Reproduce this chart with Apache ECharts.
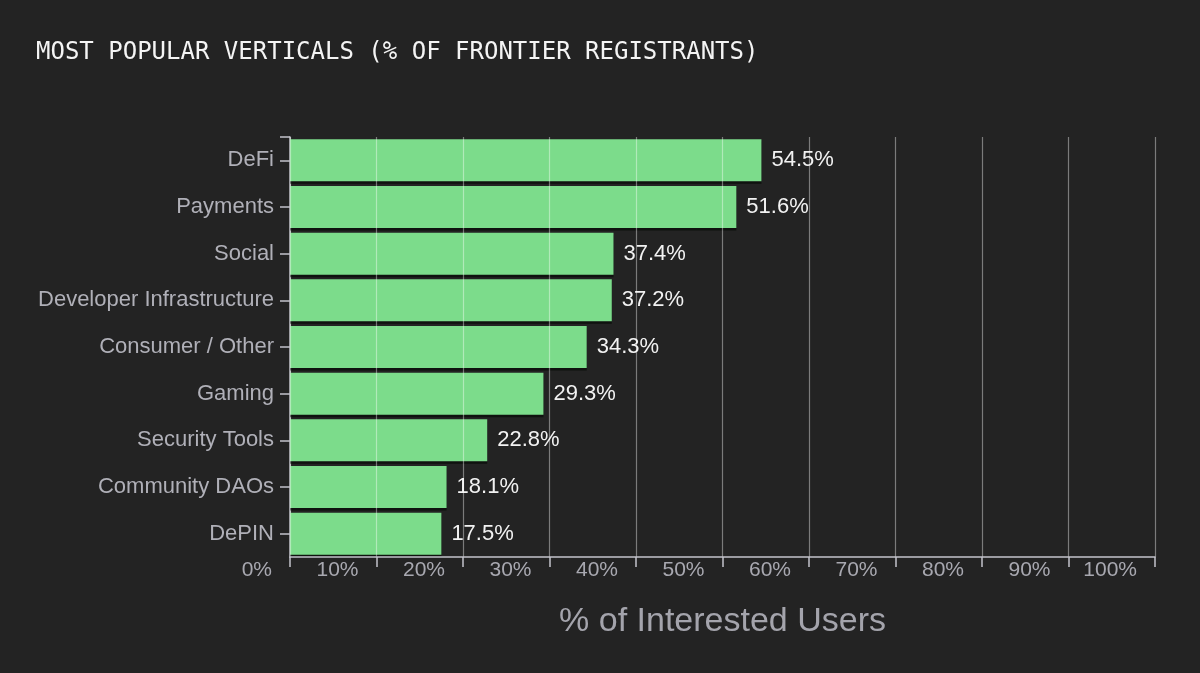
<!DOCTYPE html>
<html>
<head>
<meta charset="utf-8">
<script src="https://cdn.jsdelivr.net/npm/echarts@6/dist/echarts.min.js"></script>
<style>
  html, body { margin: 0; padding: 0; background: #232323; }
  #chart { width: 1200px; height: 673px; }
</style>
</head>
<body>
<div id="chart"></div>
<script>
// data
var categories = ['DeFi', 'Payments', 'Social', 'Developer Infrastructure', 'Consumer / Other',
                  'Gaming', 'Security Tools', 'Community DAOs', 'DePIN']
var shares = [54.5, 51.6, 37.4, 37.2, 34.3, 29.3, 22.8, 18.1, 17.5]
var tickValues = [0, 10, 20, 30, 40, 50, 60, 70, 80, 90, 100]

var chart = echarts.init(document.getElementById('chart'))

var labelFont = 'Liberation Sans, Arial, Helvetica, sans-serif'

var option = {
  backgroundColor: '#232323',
  animation: false,
  title: {
    text: 'MOST POPULAR VERTICALS (% OF FRONTIER REGISTRANTS)',
    left: 31,
    top: 36,
    textStyle: {
      color: '#f4f4f4',
      fontFamily: 'DejaVu Sans Mono, monospace',
      fontWeight: 'normal',
      fontSize: 24
    }
  },
  grid: { left: 290, right: 45, top: 137, bottom: 116, containLabel: false },
  xAxis: {
    type: 'value',
    min: tickValues[0],
    max: tickValues[tickValues.length - 1],
    interval: 10,
    z: 5,
    name: '% of Interested Users',
    nameLocation: 'middle',
    nameGap: 48,
    nameTextStyle: { color: '#a4a4ac', fontSize: 34, fontFamily: labelFont },
    axisLine: { show: true, lineStyle: { color: '#c4c4cc', width: 1.5 } },
    axisTick: { show: true, length: 10, lineStyle: { color: '#c4c4cc', width: 1.5 } },
    axisLabel: {
      color: '#a8a8b0',
      fontSize: 21,
      fontFamily: labelFont,
      align: 'right',
      padding: [0, 18, 0, 0],
      margin: 3,
      formatter: '{value}%'
    },
    splitLine: { show: true, lineStyle: { color: 'rgba(255,255,255,0.4)', width: 1.2 } }
  },
  yAxis: {
    type: 'category',
    data: categories,
    inverse: true,
    axisLine: { show: true, lineStyle: { color: '#c4c4cc', width: 1.5 } },
    axisTick: { show: true, alignWithLabel: true, length: 10, lineStyle: { color: '#c4c4cc', width: 1.5 } },
    axisLabel: { color: '#b0b0b8', fontSize: 22, fontFamily: labelFont, margin: 16 }
  },
  graphic: [{
    type: 'line',
    shape: { x1: 280, y1: 137, x2: 290, y2: 137 },
    style: { stroke: '#c4c4cc', lineWidth: 1.5 }
  }],
  series: [{
    type: 'bar',
    data: shares,
    barCategoryGap: '10%',
    itemStyle: { color: '#7cdc8b', shadowColor: '#0f120f', shadowOffsetY: 2.5, shadowBlur: 0 },
    label: {
      show: true,
      position: 'right',
      distance: 10,
      color: '#f2f2f2',
      fontSize: 22,
      fontFamily: labelFont,
      formatter: function (p) { return p.value.toFixed(1) + '%' }
    }
  }]
}

chart.setOption(option)
</script>
</body>
</html>
